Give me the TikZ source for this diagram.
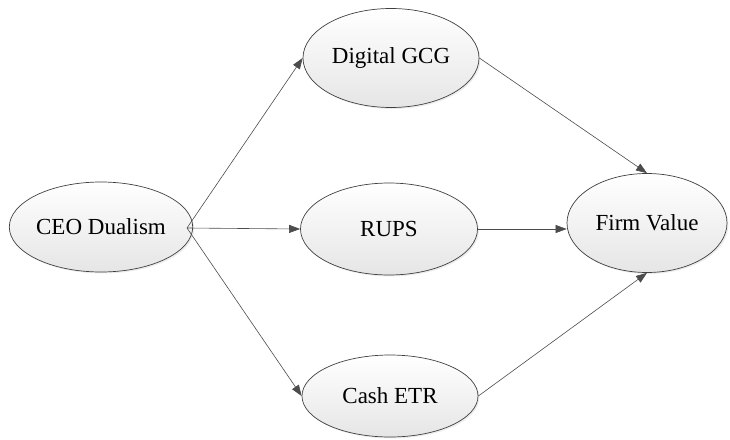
\documentclass[tikz,border=0pt]{standalone}
\usepackage{fontspec}
\setmainfont{Liberation Serif}
\usetikzlibrary{shapes.geometric,arrows.meta,shadows}
\begin{document}
\begin{tikzpicture}[x=1pt,y=-1pt,
  ell/.style={ellipse,draw=black!75,line width=0.7pt,top color=white,bottom color=black!10,
    inner sep=0pt,font=\fontsize{23}{27}\selectfont,
    drop shadow={shadow xshift=1.5pt,shadow yshift=-1.5pt,opacity=0.15}},
  arr/.style={draw=black!70,line width=0.6pt,-{Triangle[length=11pt,width=8pt]}}]
\useasboundingbox (0,0) rectangle (730,439);
\node[ell,minimum width=173,minimum height=90] (ceo) at (101,227) {CEO Dualism};
\node[ell,minimum width=176,minimum height=99] (gcg) at (391,58) {Digital GCG};
\node[ell,minimum width=177,minimum height=92] (rups) at (389,229) {RUPS};
\node[ell,minimum width=176,minimum height=82] (cash) at (390,396) {Cash ETR};
\node[ell,minimum width=160,minimum height=99] (fv) at (647,223) {Firm Value};
\coordinate (o) at (187,228);
\draw[arr] (o) -- (gcg.west);
\draw[arr] (o) -- (rups.west);
\draw[arr] (o) -- (cash.west);
\draw[arr] (gcg.east) -- (fv.north);
\draw[arr] (rups.east) -- (rups.east -| fv.west);
\draw[arr] (cash.east) -- (fv.south);
\end{tikzpicture}
\end{document}
